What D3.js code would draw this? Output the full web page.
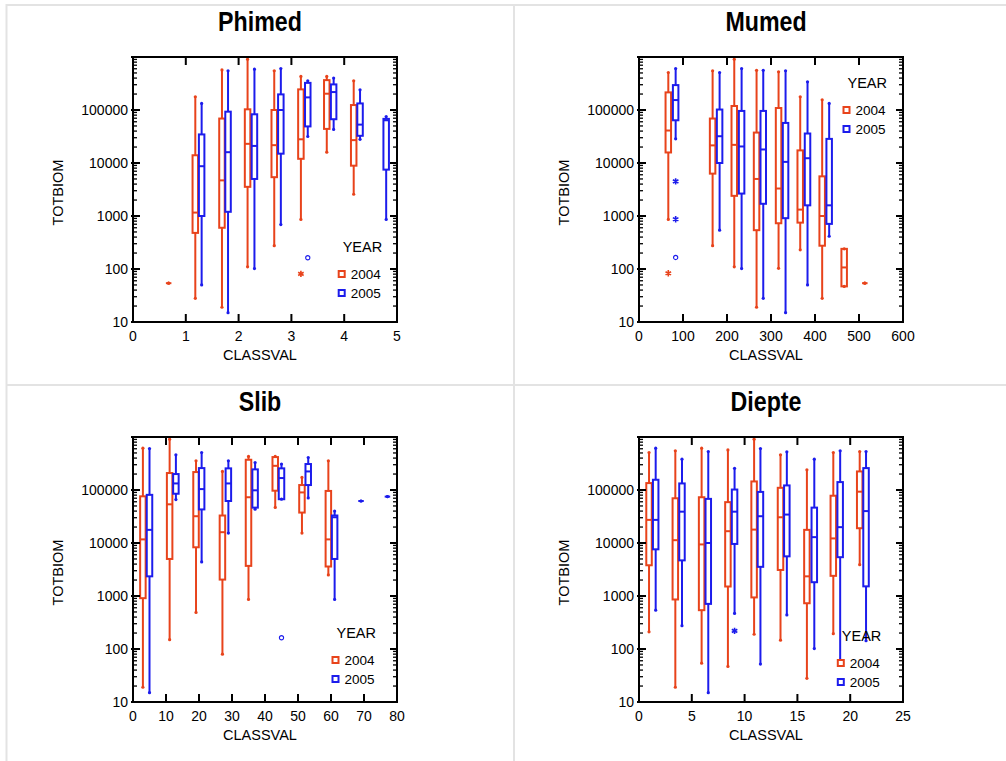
<!DOCTYPE html>
<html><head><meta charset="utf-8">
<script src="https://cdn.jsdelivr.net/npm/d3@7"></script>
<style>
body{margin:0;background:#fff}
svg{display:block}
text{font-family:"Liberation Sans",Arial,Helvetica,sans-serif;fill:#000}
</style>
</head><body>
<svg id="chart" width="1006" height="761"></svg>
<script>
// ---------------- DATA ----------------
const panelTitles = ["Phimed", "Mumed", "Slib", "Diepte"];
const legendTitle = "YEAR";
const legendYears = ["2004", "2005"];
const xAxisTitle = "CLASSVAL";
const yAxisTitle = "TOTBIOM";
const yTickValues = [10, 100, 1000, 10000, 100000];

const phimedXTicks = [0, 1, 2, 3, 4, 5];
const mumedXTicks = [0, 100, 200, 300, 400, 500, 600];
const slibXTicks = [0, 10, 20, 30, 40, 50, 60, 70, 80];
const diepteXTicks = [0, 5, 10, 15, 20, 25];

// boxes: [lowWhisker, q1, median, q3, highWhisker]
const phimedX2004 = [0.675, 1.18, 1.685, 2.17, 2.675, 3.18, 3.67, 4.18];
const phimedBox2004 = [
  [54, 54, 54, 54, 54],
  [28, 480, 1160, 14000, 178000],
  [19, 600, 4700, 69000, 570000],
  [110, 3550, 23000, 103000, 910000],
  [275, 5400, 21700, 100000, 550000],
  [860, 12000, 28000, 245000, 430000],
  [16000, 44000, 203000, 366000, 430000],
  [2570, 8900, 27000, 124000, 355000]
];
const phimedX2005 = [1.30, 1.80, 2.30, 2.80, 3.31, 3.80, 4.30, 4.795];
const phimedBox2005 = [
  [50, 1000, 8700, 34600, 133000],
  [15, 1200, 16000, 93000, 550000],
  [102, 5000, 21000, 83000, 590000],
  [690, 15000, 100000, 197000, 605000],
  [31600, 49000, 173000, 325000, 355000],
  [43000, 67000, 218000, 304000, 400000],
  [28000, 32600, 53000, 133000, 240000],
  [860, 7500, 64000, 68000, 75000]
];
const phimedOut2004 = [[3.18, 81, "star"]];
const phimedOut2005 = [[3.31, 163, "circle"]];

const mumedX2004 = [66.6, 167.3, 216.5, 267.2, 317.2, 366.4, 416.3, 466.3, 513.2];
const mumedBox2004 = [
  [860, 15800, 41000, 215000, 510000],
  [275, 6300, 21500, 69000, 550000],
  [110, 2400, 22000, 119000, 910000],
  [19, 540, 5000, 37500, 560000],
  [103, 730, 3300, 109000, 525000],
  [230, 750, 1320, 17300, 178000],
  [28, 275, 1000, 5600, 156000],
  [47, 47, 107, 240, 240],
  [54, 54, 54, 54, 54]
];
const mumedX2005 = [83.3, 183.2, 233.2, 282.4, 333.1, 383, 432.2];
const mumedBox2005 = [
  [28600, 64000, 154000, 295000, 605000],
  [540, 10000, 32000, 102000, 510000],
  [102, 2650, 20500, 96000, 605000],
  [28, 1700, 18000, 96000, 560000],
  [15, 910, 10500, 57000, 550000],
  [50, 1590, 12300, 36000, 340000],
  [415, 710, 1590, 28500, 133000]
];
const mumedOut2004 = [[66.6, 83, "star"]];
const mumedOut2005 = [[83.3, 4500, "star"], [83.3, 870, "star"], [83.3, 165, "circle"]];

const slibX2004 = [3.0, 11.1, 19.1, 27.1, 35.0, 43.1, 51.2, 59.2];
const slibBox2004 = [
  [19, 910, 11700, 76000, 615000],
  [150, 5000, 53700, 209000, 910000],
  [490, 8300, 32000, 218000, 355000],
  [80, 2040, 16000, 33000, 224000],
  [860, 3700, 73000, 372000, 430000],
  [47000, 97000, 286000, 418000, 430000],
  [15400, 37500, 90000, 124000, 173000],
  [2500, 3600, 11700, 96000, 355000]
];
const slibX2005 = [5.0, 13.0, 20.8, 28.9, 37.0, 45.0, 53.1, 61.1, 69.1, 77.1];
const slibBox2005 = [
  [15, 2350, 17700, 81000, 605000],
  [66000, 85000, 133000, 200000, 460000],
  [4400, 43000, 104000, 259000, 510000],
  [15400, 62000, 133000, 256000, 355000],
  [43500, 46500, 98600, 245000, 330000],
  [67000, 67000, 168000, 256000, 309000],
  [71000, 124000, 224000, 309000, 410000],
  [860, 5000, 30600, 33000, 40000],
  [62000, 62000, 62000, 62000, 62000],
  [75000, 75000, 75000, 75000, 75000]
];
const slibOut2004 = [];
const slibOut2005 = [[45.0, 163, "circle"]];

const diepteX2004 = [0.95, 3.44, 5.93, 8.42, 10.9, 13.4, 15.9, 18.4, 20.9];
const diepteBox2004 = [
  [211, 3800, 27300, 135000, 510000],
  [19, 860, 11300, 69800, 550000],
  [54, 540, 9400, 73000, 615000],
  [47, 1510, 16700, 59000, 570000],
  [190, 940, 17900, 145000, 910000],
  [147, 3100, 30600, 110000, 460000],
  [28, 730, 2350, 17700, 240000],
  [195, 2400, 12200, 78000, 510000],
  [3900, 19000, 93000, 224000, 530000]
];
const diepteX2005 = [1.58, 4.07, 6.56, 9.05, 11.5, 14.0, 16.6, 19.05, 21.5];
const diepteBox2005 = [
  [540, 7600, 27300, 156000, 615000],
  [275, 4700, 39000, 133000, 382000],
  [15, 710, 10000, 68000, 530000],
  [470, 9600, 39000, 102000, 256000],
  [52, 3550, 32000, 92000, 605000],
  [440, 5600, 34400, 122000, 525000],
  [102, 1820, 12900, 46500, 382000],
  [62, 5400, 19900, 141000, 550000],
  [143, 1520, 40000, 259000, 530000]
];
const diepteOut2004 = [];
const diepteOut2005 = [[9.05, 220, "star"]];

// ---------------- LAYOUT ----------------
const colors = ["#e8431b", "#1c1cec"];
const svg = d3.select("#chart");

// outer frame / dividers
const frame = svg.append("g").attr("stroke", "#e3e3e3").attr("stroke-width", 2);
frame.append("line").attr("x1", 6).attr("x2", 1006).attr("y1", 5).attr("y2", 5);
frame.append("line").attr("x1", 6.5).attr("x2", 6.5).attr("y1", 4).attr("y2", 761);
frame.append("line").attr("x1", 514).attr("x2", 514).attr("y1", 4).attr("y2", 761);
frame.append("line").attr("x1", 6).attr("x2", 1006).attr("y1", 385).attr("y2", 385);

const panels = [
  {title: panelTitles[0], left: 133, top: 57, xDomain: [0, 5], xTicks: phimedXTicks,
   series: [[phimedX2004, phimedBox2004, phimedOut2004], [phimedX2005, phimedBox2005, phimedOut2005]],
   legend: {sx: 341.7, sy: 274}},
  {title: panelTitles[1], left: 639, top: 57, xDomain: [0, 600], xTicks: mumedXTicks,
   series: [[mumedX2004, mumedBox2004, mumedOut2004], [mumedX2005, mumedBox2005, mumedOut2005]],
   legend: {sx: 846.5, sy: 110}},
  {title: panelTitles[2], left: 133, top: 437, xDomain: [0, 80], xTicks: slibXTicks,
   series: [[slibX2004, slibBox2004, slibOut2004], [slibX2005, slibBox2005, slibOut2005]],
   legend: {sx: 335.5, sy: 660}},
  {title: panelTitles[3], left: 639, top: 437, xDomain: [0, 25], xTicks: diepteXTicks,
   series: [[diepteX2004, diepteBox2004, diepteOut2004], [diepteX2005, diepteBox2005, diepteOut2005]],
   legend: {sx: 840.8, sy: 663}}
];

const W = 264, H = 265, boxW = 5.5;

panels.forEach(p => {
  const g = svg.append("g");
  const x = d3.scaleLinear().domain(p.xDomain).range([p.left, p.left + W]);
  const y = d3.scaleLog().domain([10, 1e6]).range([p.top + H, p.top]);
  const cx = p.left + W / 2 - 5;

  // title
  g.append("text")
    .attr("transform", `translate(${cx},${p.top - 26}) scale(0.86,1)`)
    .attr("text-anchor", "middle")
    .style("font-size", "27px").style("font-weight", "bold")
    .text(p.title);

  // boxes
  p.series.forEach((s, si) => {
    const [xs, boxes, outs] = s;
    const col = colors[si];
    const sg = g.append("g").attr("stroke", col).attr("fill", "none").attr("stroke-width", 2);
    boxes.forEach((b, i) => {
      const px = x(xs[i]);
      const [lo, q1, med, q3, hi] = b;
      // whiskers
      sg.append("line").attr("x1", px).attr("x2", px).attr("y1", y(q3)).attr("y2", y(hi));
      sg.append("line").attr("x1", px).attr("x2", px).attr("y1", y(q1)).attr("y2", y(lo));
      sg.append("circle").attr("cx", px).attr("cy", y(hi)).attr("r", 1.6).attr("fill", col).attr("stroke", "none");
      sg.append("circle").attr("cx", px).attr("cy", y(lo)).attr("r", 1.6).attr("fill", col).attr("stroke", "none");
      // box
      sg.append("rect").attr("x", px - boxW / 2).attr("width", boxW)
        .attr("y", y(q3)).attr("height", Math.max(0, y(q1) - y(q3)));
      // median
      sg.append("line").attr("x1", px - boxW / 2).attr("x2", px + boxW / 2)
        .attr("y1", y(med)).attr("y2", y(med));
    });
    outs.forEach(o => {
      const sym = o[2] === "star" ? d3.symbolAsterisk : d3.symbolCircle;
      sg.append("path")
        .attr("transform", `translate(${x(o[0])},${y(o[1])})`)
        .attr("d", d3.symbol(sym, o[2] === "star" ? 28 : 14)())
        .attr("stroke-width", o[2] === "star" ? 1.6 : 1.1)
        .attr("fill", o[2] === "star" ? "none" : "#fff");
    });
  });

  // axes frame
  const ax = g.append("g").attr("stroke", "#000").attr("stroke-width", 2).attr("fill", "none");
  ax.append("rect").attr("x", p.left).attr("y", p.top).attr("width", W).attr("height", H);

  // x ticks (bottom and top, inward)
  p.xTicks.forEach(t => {
    const px = x(t);
    ax.append("line").attr("x1", px).attr("x2", px).attr("y1", p.top + H).attr("y2", p.top + H - 8);
    ax.append("line").attr("x1", px).attr("x2", px).attr("y1", p.top).attr("y2", p.top + 8);
    g.append("text").attr("x", px).attr("y", p.top + H + 19)
      .attr("text-anchor", "middle").style("font-size", "14px").text(t);
  });

  // y ticks
  const minor = [];
  yTickValues.forEach(d => { for (let k = 2; k <= 9; k++) minor.push(d * k); });
  const mg = g.append("g").attr("stroke", "#000").attr("stroke-width", 1.3);
  minor.forEach(v => {
    const py = y(v);
    mg.append("line").attr("x1", p.left).attr("x2", p.left + 4).attr("y1", py).attr("y2", py);
    mg.append("line").attr("x1", p.left + W).attr("x2", p.left + W - 4).attr("y1", py).attr("y2", py);
  });
  yTickValues.concat([1e6]).forEach(v => {
    const py = y(v);
    ax.append("line").attr("x1", p.left - 2).attr("x2", p.left + 7).attr("y1", py).attr("y2", py);
    ax.append("line").attr("x1", p.left + W).attr("x2", p.left + W - 7).attr("y1", py).attr("y2", py);
  });
  yTickValues.forEach(v => {
    g.append("text").attr("x", p.left - 5).attr("y", y(v)).attr("dy", "0.35em")
      .attr("text-anchor", "end").style("font-size", "14px").text(v);
  });

  // axis titles
  g.append("text").attr("x", cx).attr("y", p.top + H + 38)
    .attr("text-anchor", "middle").style("font-size", "14.5px").text(xAxisTitle);
  g.append("text").attr("transform", `translate(${p.left - 70},${p.top + H / 2 + 3}) rotate(-90)`)
    .attr("text-anchor", "middle").style("font-size", "14.5px").text(yAxisTitle);

  // legend
  const L = p.legend;
  g.append("text").attr("x", L.sx + 1).attr("y", L.sy - 22)
    .style("font-size", "14.5px").text(legendTitle);
  legendYears.forEach((yr, i) => {
    const sy = L.sy + i * 19;
    g.append("rect").attr("x", L.sx - 3).attr("y", sy - 3).attr("width", 6).attr("height", 6)
      .attr("fill", "#fff").attr("stroke", colors[i]).attr("stroke-width", 2);
    g.append("text").attr("x", L.sx + 9).attr("y", sy + 5)
      .style("font-size", "13.5px").text(yr);
  });
});
</script>
</body></html>
